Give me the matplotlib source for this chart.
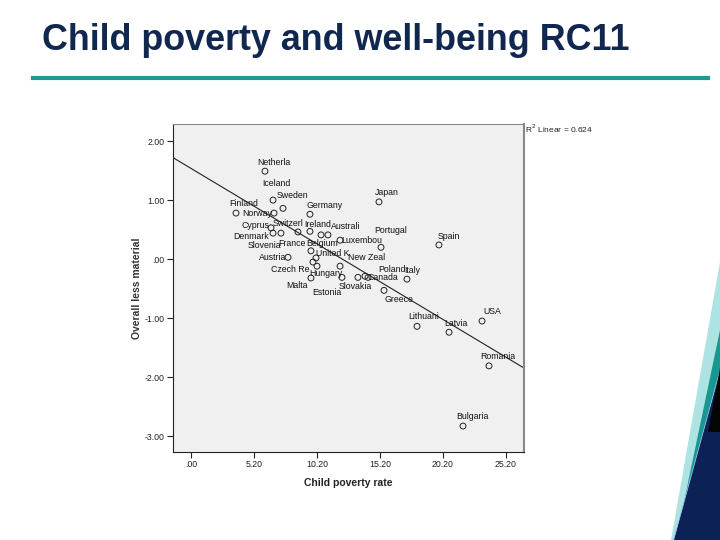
import numpy as np
import matplotlib.pyplot as plt
from matplotlib.patches import Polygon

countries = ['Netherlands', 'Iceland', 'Sweden', 'Finland', 'Norway', 'Germany',
             'Cyprus', 'Denmark', 'Slovenia', 'Switzerland', 'Ireland', 'Belgium',
             'Australia', 'Luxembourg', 'Japan', 'Portugal', 'Spain', 'France',
             'Austria', 'United Kingdom', 'Czech Republic', 'Hungary', 'New Zealand',
             'Malta', 'Estonia', 'Slovakia', 'Canada', 'Poland', 'Italy', 'Greece',
             'Lithuania', 'Latvia', 'USA', 'Romania', 'Bulgaria']
poverty = [5.87, 6.51, 7.30, 3.57, 6.59, 9.44,
           6.35, 6.51, 7.14, 8.49, 9.44, 10.32,
           10.87, 11.83, 14.92, 15.08, 19.68, 9.52,
           7.70, 9.92, 9.68, 10.00, 11.83,
           9.52, 11.98, 13.25, 13.81, 14.05, 17.14, 15.32,
           17.94, 20.48, 23.10, 23.65, 21.59]
wellbeing = [1.49, 1.00, 0.86, 0.78, 0.78, 0.76,
             0.53, 0.44, 0.44, 0.46, 0.47, 0.41,
             0.41, 0.32, 0.97, 0.20, 0.24, 0.14,
             0.03, 0.02, -0.05, -0.12, -0.12,
             -0.32, -0.31, -0.31, -0.29, -0.31, -0.34, -0.53,
             -1.14, -1.24, -1.05, -1.81, -2.83]
r2_text = 'R$^2$ Linear = 0.624'
xticks = [0, 5, 10, 15, 20, 25]
xtick_labels = ['.00', '5.20', '10.20', '15.20', '20.20', '25.20']
yticks = [2, 1, 0, -1, -2, -3]
ytick_labels = ['2.00', '1.00', '.00', '-1.00', '-2.00', '-3.00']

# label placement relative to each point (pixels), like SPSS does it
label_offsets = [(9, 9), (3, 17), (9, 13), (8, 10), (-17, 0), (15, 9),
                 (-16, 2), (-22, -3), (-17, -12), (-10, 8), (8, 7), (1, -9),
                 (18, 8), (22, 0), (8, 9), (10, 17), (10, 8), (-19, 7),
                 (-15, 0), (17, 4), (-23, -7), (9, -7), (27, 9),
                 (-14, -8), (-15, -15), (-3, -9), (18, -1), (24, 8), (5, 9), (15, -9),
                 (7, 10), (7, 9), (10, 10), (9, 9), (9, 10)]

plt.rcParams['font.family'] = ['Liberation Sans', 'DejaVu Sans']

fig = plt.figure(figsize=(7.2, 5.4), dpi=100)

# slide title and rule
fig.text(42 / 720, 1 - 40 / 540, 'Child poverty and well-being RC11', fontsize=25.8,
         fontweight='bold', color='#10284f', va='center', ha='left')
fig.add_artist(plt.Line2D([33 / 720, 708 / 720], [1 - 78 / 540, 1 - 78 / 540],
                          color='#24958f', lw=3))

# corner decoration
def px(pts):
    return [(x / 720, 1 - y / 540) for x, y in pts]

fig.add_artist(Polygon(px([(720, 262), (720, 540), (671, 540)]), closed=True,
                       transform=fig.transFigure, color='#aee3e3', lw=0))
fig.add_artist(Polygon(px([(720, 330), (720, 540), (676, 540)]), closed=True,
                       transform=fig.transFigure, color='#17978f', lw=0))
fig.add_artist(Polygon(px([(720, 368), (720, 540), (673, 540)]), closed=True,
                       transform=fig.transFigure, color='#0c2156', ec='#9fc4ee', lw=0.6))
fig.add_artist(Polygon(px([(720, 368), (708, 432), (720, 432)]), closed=True,
                       transform=fig.transFigure, color='#050505', lw=0))

ax = fig.add_axes([173 / 720, 1 - 452 / 540, 351 / 720, 328 / 540])
ax.set_facecolor('#f0f0f0')

x = np.array(poverty)
y = np.array(wellbeing)
ax.scatter(x, y, s=18, facecolors='none', edgecolors='#222222', linewidths=0.7, zorder=3)

for name, xi, yi, off in zip(countries, x, y, label_offsets):
    ax.annotate(name[:8], (xi, yi), xytext=off, textcoords='offset pixels',
                ha='center', va='center', fontsize=6.3, color='#111111')

xmin, xmax = -1.43, 26.43
slope, intercept = np.polyfit(x, y, 1)
xs = np.array([xmin, xmax])
ax.plot(xs, intercept + slope * xs, color='#222222', lw=0.8)

ax.set_xlim(xmin, xmax)
ax.set_ylim(-3.27, 2.29)
ax.set_xticks(xticks)
ax.set_xticklabels(xtick_labels)
ax.set_yticks(yticks)
ax.set_yticklabels(ytick_labels)
ax.tick_params(labelsize=6.3, colors='#222222', length=4, width=0.8, pad=2)

for s in ['top', 'right']:
    ax.spines[s].set_color('#888888')
ax.spines['right'].set_linewidth(1.5)
ax.spines['left'].set_color('#222222')
ax.spines['bottom'].set_color('#222222')

ax.set_xlabel('Child poverty rate', fontsize=7.5, fontweight='bold', color='#222222', labelpad=6)
ax.set_ylabel('Overall less material', fontsize=7.5, fontweight='bold', color='#333333', labelpad=2)
ax.text(1.003, 0.985, r2_text, transform=ax.transAxes, fontsize=6, ha='left', va='center',
        color='#222222')

fig.savefig('out.png', dpi=100)
